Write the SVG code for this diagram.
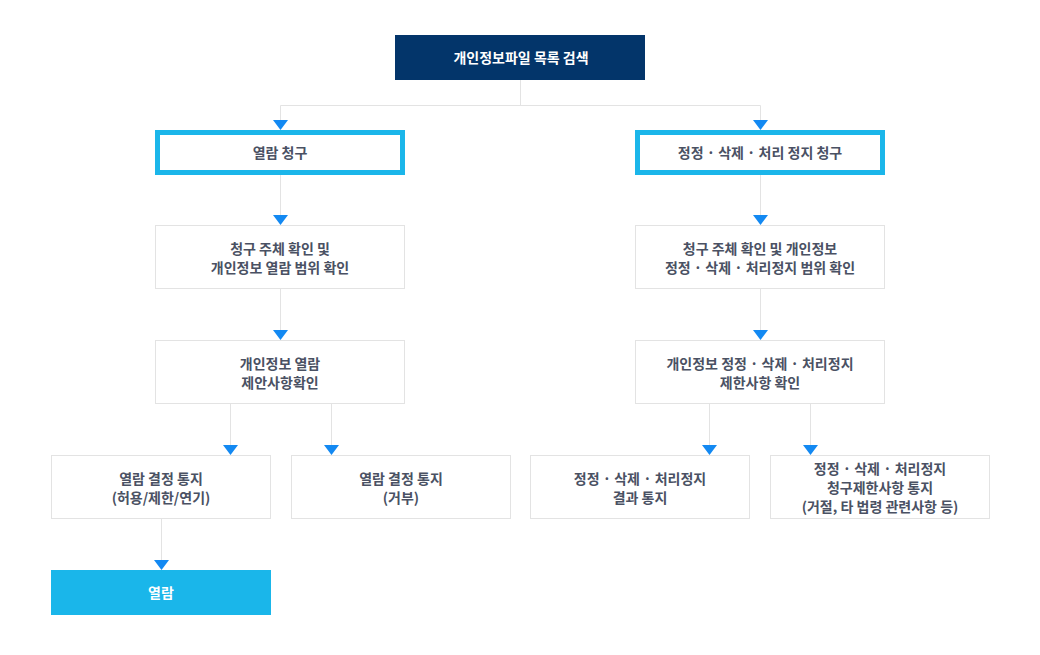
<svg xmlns="http://www.w3.org/2000/svg" width="1040" height="655" viewBox="0 0 1040 655">
<style>
text{font-family:"Noto Sans CJK KR","Noto Sans",sans-serif;font-size:14px;font-weight:bold;fill:#4a5163;text-anchor:middle;dominant-baseline:central}
.w{fill:#ffffff}
.box{fill:#ffffff;stroke:#e3e3e3;stroke-width:1}
.req{fill:#ffffff;stroke:#1bb6ea;stroke-width:5}
.ln{stroke:#e3e3e3;stroke-width:1;fill:none}
.ar{fill:#1389f2}
</style>
<rect width="1040" height="655" fill="#ffffff"/>
<g id="connectors">
<path class="ln" d="M520.5 80V105.5M280.5 105.5H760.5M280.5 105.5V120M760.5 105.5V120"/>
<path class="ln" d="M280.5 175V216M760.5 175V216"/>
<path class="ln" d="M280.5 289V331M760.5 289V331"/>
<path class="ln" d="M230.5 404V446M331.5 404V446M709.5 404V446M810.5 404V446"/>
<path class="ln" d="M161.5 519V561"/>
<polygon class="ar" points="273,120 288,120 280.5,130"/>
<polygon class="ar" points="753,120 768,120 760.5,130"/>
<polygon class="ar" points="273,215 288,215 280.5,225"/>
<polygon class="ar" points="753,215 768,215 760.5,225"/>
<polygon class="ar" points="273,330 288,330 280.5,340"/>
<polygon class="ar" points="753,330 768,330 760.5,340"/>
<polygon class="ar" points="223,445 238,445 230.5,455"/>
<polygon class="ar" points="324,445 339,445 331.5,455"/>
<polygon class="ar" points="702,445 717,445 709.5,455"/>
<polygon class="ar" points="803,445 818,445 810.5,455"/>
<polygon class="ar" points="154,560 169,560 161.5,570"/>
</g>
<g id="n-search">
<rect x="395" y="35" width="250" height="45" fill="#03356a"/>
<text class="w" x="521" y="57">개인정보파일 목록 검색</text>
</g>
<g id="n-view-req">
<rect class="req" x="157.5" y="132.5" width="245" height="40"/>
<text x="280" y="152">열람 청구</text>
</g>
<g id="n-fix-req">
<rect class="req" x="637.5" y="132.5" width="245" height="40"/>
<text x="760" y="152">정정 · 삭제 · 처리 정지 청구</text>
</g>
<g id="n-view-check">
<rect class="box" x="155.5" y="225.5" width="249" height="63"/>
<text x="280" y="248">청구 주체 확인 및</text>
<text x="280" y="267">개인정보 열람 범위 확인</text>
</g>
<g id="n-fix-check">
<rect class="box" x="635.5" y="225.5" width="249" height="63"/>
<text x="760" y="248">청구 주체 확인 및 개인정보</text>
<text x="760" y="267">정정 · 삭제 · 처리정지 범위 확인</text>
</g>
<g id="n-view-limit">
<rect class="box" x="155.5" y="340.5" width="249" height="63"/>
<text x="280" y="363">개인정보 열람</text>
<text x="280" y="382">제안사항확인</text>
</g>
<g id="n-fix-limit">
<rect class="box" x="635.5" y="340.5" width="249" height="63"/>
<text x="760" y="363">개인정보 정정 · 삭제 · 처리정지</text>
<text x="760" y="382">제한사항 확인</text>
</g>
<g id="n-view-ok">
<rect class="box" x="51.5" y="455.5" width="219" height="63"/>
<text x="161" y="478">열람 결정 통지</text>
<text x="161" y="497">(허용/제한/연기)</text>
</g>
<g id="n-view-deny">
<rect class="box" x="291.5" y="455.5" width="219" height="63"/>
<text x="401" y="478">열람 결정 통지</text>
<text x="401" y="497">(거부)</text>
</g>
<g id="n-fix-result">
<rect class="box" x="530.5" y="455.5" width="219" height="63"/>
<text x="640" y="478">정정 · 삭제 · 처리정지</text>
<text x="640" y="497">결과 통지</text>
</g>
<g id="n-fix-limit-notice">
<rect class="box" x="770.5" y="455.5" width="219" height="63"/>
<text x="880" y="468">정정 · 삭제 · 처리정지</text>
<text x="880" y="487">청구제한사항 통지</text>
<text x="880" y="506">(거절, 타 법령 관련사항 등)</text>
</g>
<g id="n-view">
<rect x="51" y="570" width="220" height="45" fill="#1ab6ea"/>
<text class="w" x="161" y="592">열람</text>
</g>
</svg>
